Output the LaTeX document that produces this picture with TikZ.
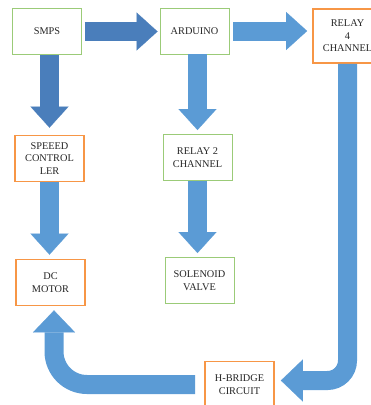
\documentclass[tikz,border=0pt]{standalone}
\usepackage{fontspec}
\setmainfont{Liberation Serif}
\usetikzlibrary{arrows.meta, calc}
\definecolor{darkflow}{RGB}{74,126,187}
\definecolor{lightflow}{RGB}{91,155,213}
\definecolor{boxgreen}{RGB}{155,203,120}
\definecolor{boxorange}{RGB}{247,150,70}
\tikzset{
  unit/.style={
    draw=#1, fill=white, minimum width=20.7mm, minimum height=13.8mm,
    align=center, inner sep=1pt, text=black!85,
    font=\fontsize{8.8}{10.7}\selectfont
  },
  greenbox/.style={unit=boxgreen, line width=0.8pt},
  orangebox/.style={unit=boxorange, line width=1.5pt},
  flow/.style={
    draw=#1, line width=5.7mm,
    -{Triangle[length=6.3mm, width=11.4mm, line width=0.1pt]}
  },
  wideflow/.style={
    flow=#1, -{Triangle[length=6.6mm, width=12.6mm, line width=0.1pt]}
  }
}

\begin{document}
\begin{tikzpicture}[x=0.3mm, y=-0.3mm]
\useasboundingbox (0,0) rectangle (371,405);
\clip (0,0) rectangle (371,405);

%% Blocks
\node[greenbox] (smps) at (47,31.5) {SMPS};
\node[greenbox] (arduino) at (194.5,31) {ARDUINO};
\node[orangebox, minimum height=16.2mm] (relay4) at (347.5,36) {RELAY\\4\\CHANNEL};
\node[orangebox] (speed) at (49.5,158.5) {SPEEED\\CONTROL\\LER};
\node[greenbox] (relay2) at (197.5,157.5) {RELAY 2\\CHANNEL};
\node[orangebox] (dc) at (50.5,282.5) {DC\\MOTOR};
\node[greenbox] (solenoid) at (199.5,280.5) {SOLENOID\\VALVE};
\node[orangebox] (hbridge) at (239.5,384.5) {H-BRIDGE\\CIRCUIT};

%% Straight arrows
\draw[flow=darkflow] ($(smps.east)+(3,0)$) -- ($(arduino.west |- smps.east)+(-2,0)$);
\draw[flow=lightflow] ($(arduino.east)+(4,0)$) -- ($(relay4.west |- arduino.east)+(-5,0)$);
\draw[flow=darkflow] (speed.north |- smps.south) -- ($(speed.north)+(0,-7)$);
\draw[flow=lightflow] (relay2.north |- arduino.south) -- ($(relay2.north)+(0,-4)$);
\draw[flow=lightflow] (speed.south) -- ($(speed.south |- dc.north)+(0,-4)$);
\draw[flow=lightflow] (relay2.south) -- ($(relay2.south |- solenoid.north)+(0,-4)$);

%% Loop back through the H-bridge
\coordinate (hbin) at ($(hbridge.east)+(6,-4)$);
\coordinate (hbout) at ($(hbridge.west)+(-9,0)$);
\coordinate (dcin) at ($(dc.south)+(3.5,4)$);
\draw[wideflow=lightflow, rounded corners=6mm] (relay4.south) -- (relay4.south |- hbin) -- (hbin);
\draw[wideflow=lightflow, rounded corners=9.9mm] (hbout) -- (dcin |- hbout) -- (dcin);
\end{tikzpicture}
\end{document}
